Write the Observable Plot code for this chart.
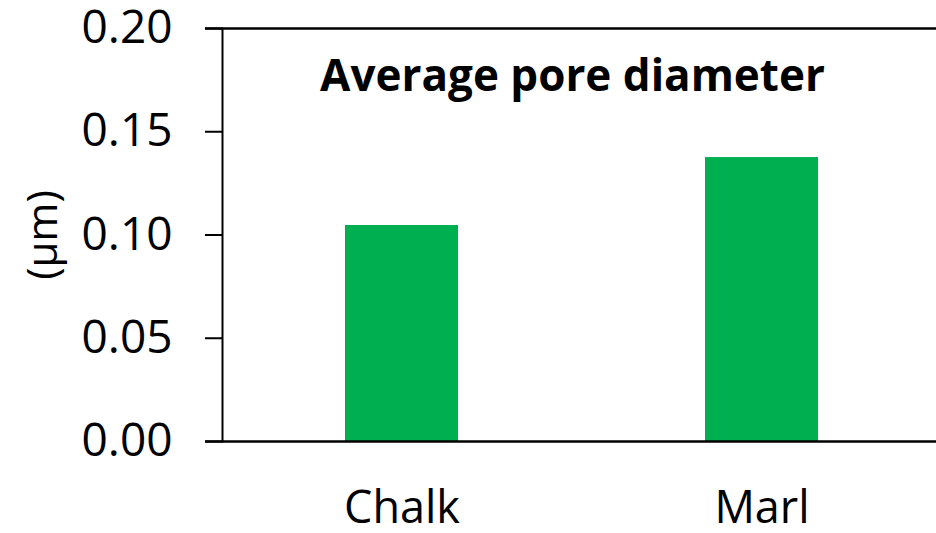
<!DOCTYPE html>
<html>
<head>
<meta charset="utf-8">
<script src="https://cdn.jsdelivr.net/npm/d3@7"></script>
<script src="https://cdn.jsdelivr.net/npm/@observablehq/plot@0.6"></script>
<style>
  html, body { margin: 0; padding: 0; background: white; }
  #chart svg { display: block; }
</style>
</head>
<body>
<div id="chart"></div>
<script>
const categories = ["Chalk", "Marl"];
const values = [0.1046, 0.1375];
const yTicks = [0, 0.05, 0.10, 0.15, 0.20];
const chartTitle = "Average pore diameter";
const yLabel = "(μm)";

const data = categories.map((c, i) => ({category: c, value: values[i]}));

const chart = Plot.plot({
  width: 936,
  height: 533,
  marginLeft: 222,
  marginRight: 0,
  marginTop: 28,
  marginBottom: 92,
  style: {fontFamily: "'Open Sans', sans-serif", background: "white", color: "black", overflow: "visible"},
  x: {domain: categories, range: [222, 942], paddingInner: 0.686, paddingOuter: 0.343, axis: null},
  y: {domain: [0, 0.2], axis: null},
  marks: [
    Plot.barY(data, {x: "category", y: "value", fill: "#00B050"}),
    Plot.axisY({ticks: yTicks, tickFormat: d3.format(".2f"), tickSize: 17, tickPadding: 33, fontSize: 46, label: null, strokeWidth: 2, stroke: "black", fill: "black"}),
    Plot.frame({anchor: "left", stroke: "black", strokeWidth: 2}),
    Plot.ruleY([0, 0.2], {insetLeft: -17, stroke: "black", strokeWidth: 2.5}),
    Plot.text(categories, {x: d => d, frameAnchor: "bottom", dy: 81, fontSize: 45, fill: "black"}),
    Plot.text([chartTitle], {frameAnchor: "top", dx: -7, dy: 31, fontSize: 44, fontWeight: "bold", fill: "black"}),
    Plot.text([yLabel], {frameAnchor: "left", textAnchor: "middle", dx: -179, rotate: -90, fontSize: 42, fill: "black"})
  ]
});
document.getElementById("chart").appendChild(chart);
</script>
</body>
</html>
